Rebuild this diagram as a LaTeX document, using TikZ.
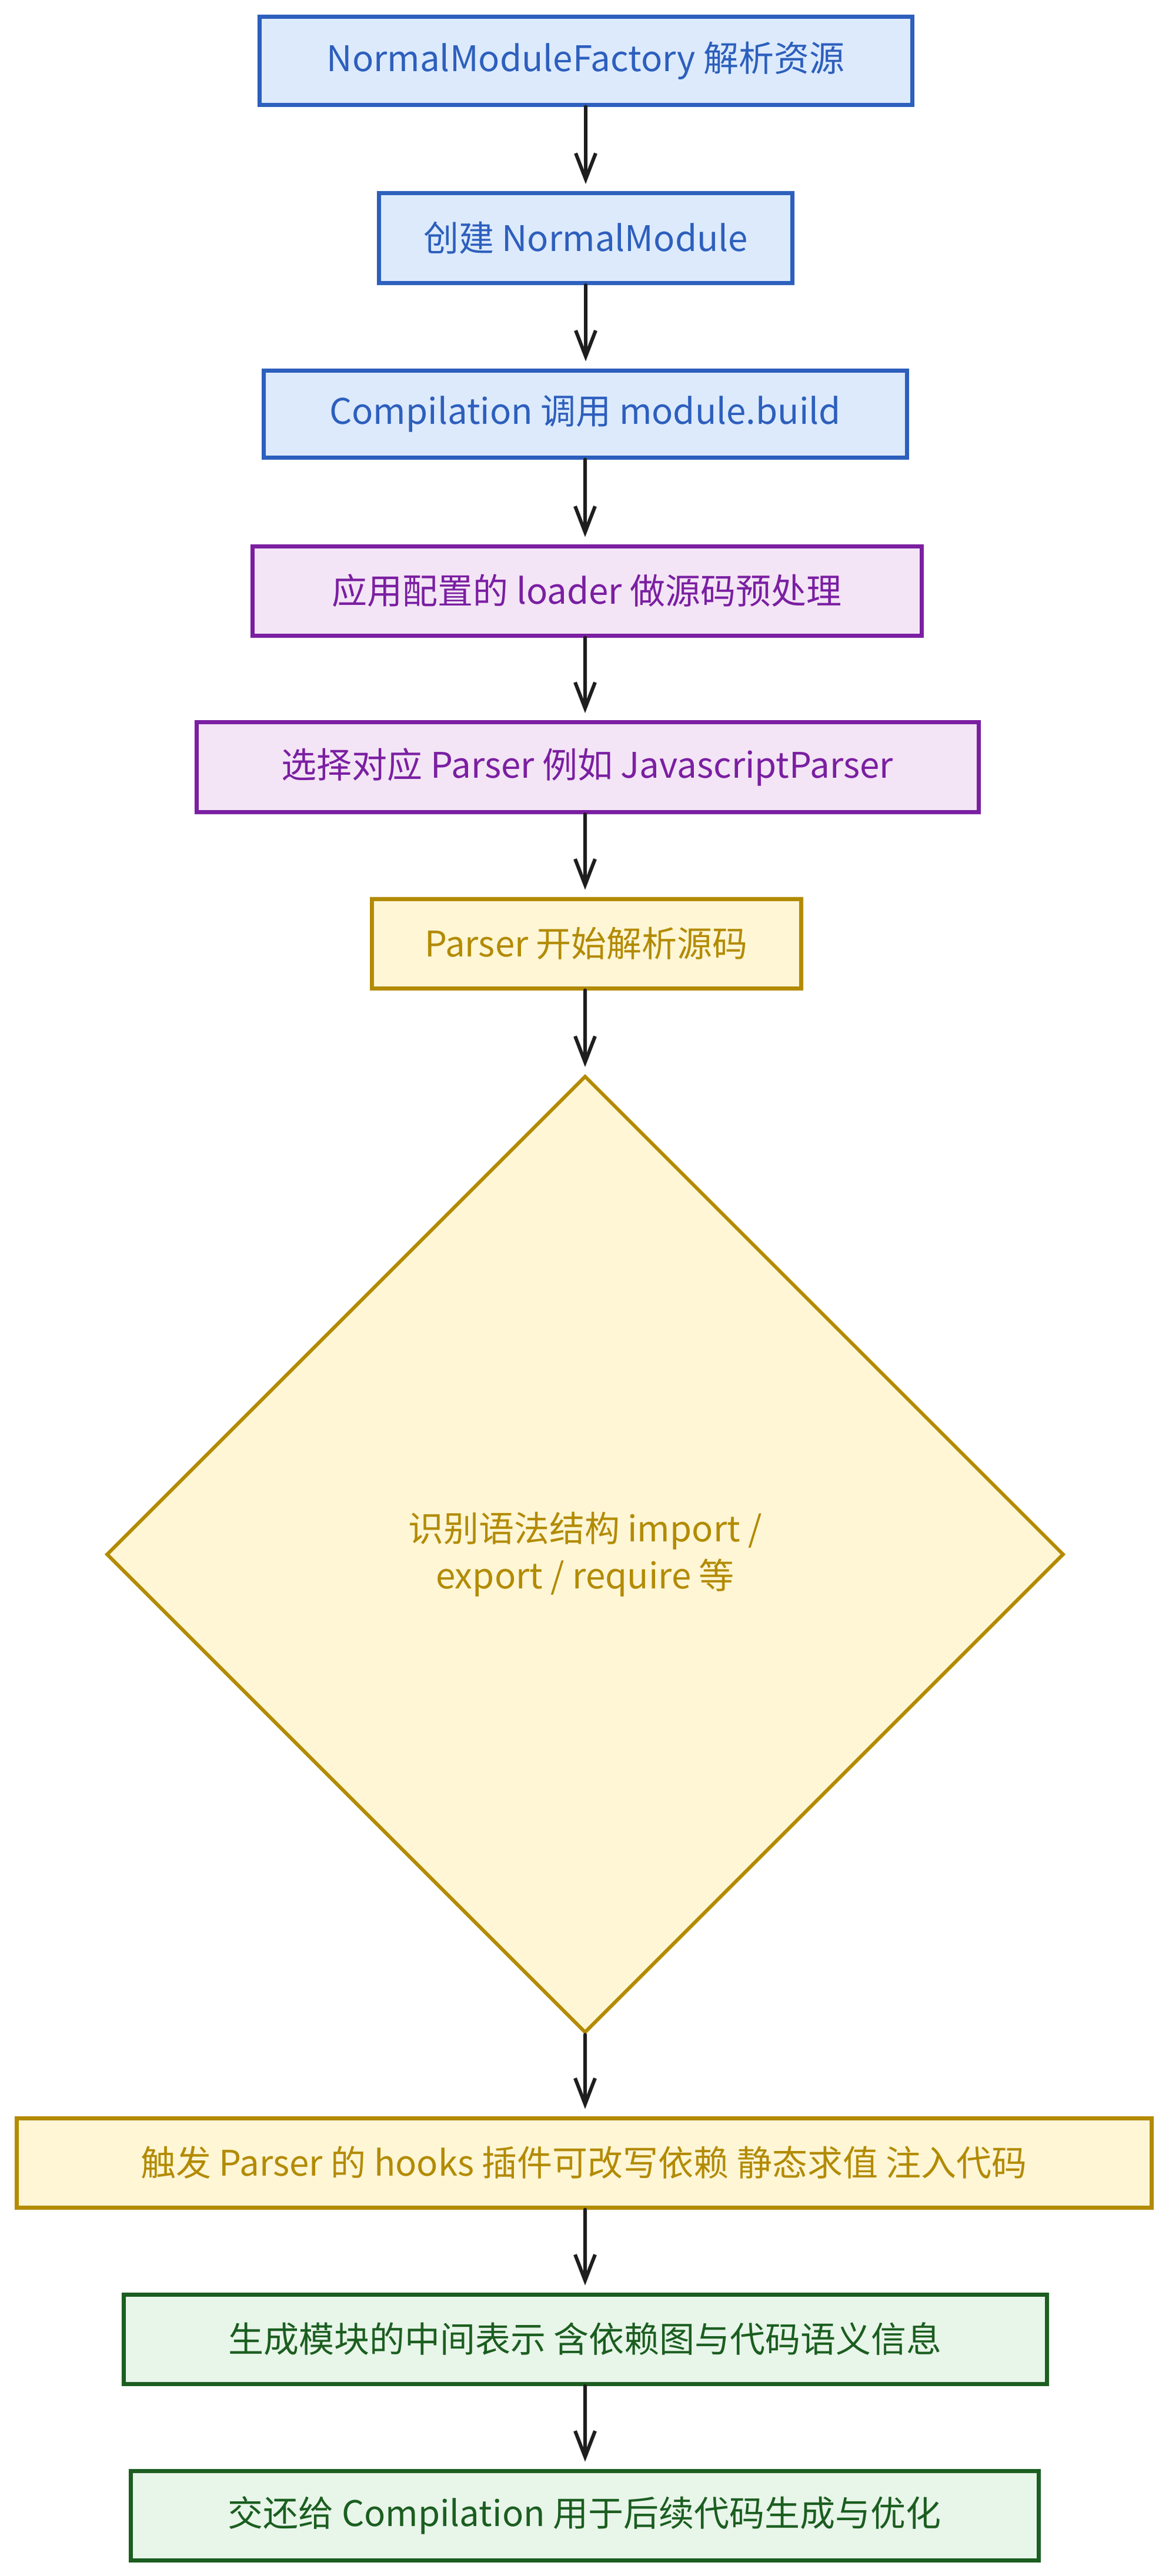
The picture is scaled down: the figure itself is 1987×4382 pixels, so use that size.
\documentclass[tikz,border=0pt]{standalone}
\usepackage{fontspec}
\setmainfont{Noto Sans CJK SC}
\usetikzlibrary{shapes.geometric,arrows.meta}
\definecolor{bluestroke}{HTML}{2D5FBD}
\definecolor{bluefill}{HTML}{DCEAFC}
\definecolor{purplestroke}{HTML}{7B1FA2}
\definecolor{purplefill}{HTML}{F3E5F5}
\definecolor{yellowstroke}{HTML}{B38B00}
\definecolor{yellowfill}{HTML}{FFF6D6}
\definecolor{greenstroke}{HTML}{1B5E20}
\definecolor{greenfill}{HTML}{E8F5E9}
\definecolor{arrowcol}{HTML}{1E1E1E}
\tikzset{
  box/.style={rectangle, line width=7pt, inner sep=0pt, align=center,
    font=\fontsize{60}{80}\selectfont},
  bluebox/.style={box, draw=bluestroke, fill=bluefill, text=bluestroke},
  purplebox/.style={box, draw=purplestroke, fill=purplefill, text=purplestroke},
  yellowbox/.style={box, draw=yellowstroke, fill=yellowfill, text=yellowstroke},
  greenbox/.style={box, draw=greenstroke, fill=greenfill, text=greenstroke},
  flow/.style={draw=arrowcol, line width=6pt, line cap=round,
    -{Straight Barb[length=44pt,width=34pt,line width=6pt]}, shorten >=12pt},
}
\begin{document}
\begin{tikzpicture}[x=1pt,y=-1pt]
\path[use as bounding box, fill=white] (0,0) rectangle (1987,4382);
\node[bluebox, minimum width=1110pt, minimum height=150pt] (b1) at (996,103) {NormalModuleFactory 解析资源};
\node[bluebox, minimum width=703pt, minimum height=153pt] (b2) at (996,405) {创建 NormalModule};
\node[bluebox, minimum width=1094pt, minimum height=148pt] (b3) at (995,704) {Compilation 调用 module.build};
\node[purplebox, minimum width=1138pt, minimum height=152pt] (b4) at (998,1005) {应用配置的 loader 做源码预处理};
\node[purplebox, minimum width=1330pt, minimum height=153pt] (b5) at (999,1305) {选择对应 Parser 例如 JavascriptParser};
\node[yellowbox, minimum width=730pt, minimum height=152pt] (b6) at (997,1605) {Parser 开始解析源码};
\node[diamond, aspect=1, line width=6pt, inner sep=0pt, draw=yellowstroke, fill=yellowfill,
  text=yellowstroke, align=center, font=\fontsize{60}{80}\selectfont,
  minimum width=1628pt, minimum height=1628pt] (d) at (995,2644)
  {识别语法结构 import /\\export / require 等};
\node[yellowbox, minimum width=1930pt, minimum height=152pt] (b7) at (993,3679) {触发 Parser 的 hooks 插件可改写依赖 静态求值 注入代码};
\node[greenbox, minimum width=1570pt, minimum height=152pt] (b8) at (995,3979) {生成模块的中间表示 含依赖图与代码语义信息};
\node[greenbox, minimum width=1544pt, minimum height=152pt] (b9) at (994,4279) {交还给 Compilation 用于后续代码生成与优化};
\draw[flow] (b1.south) -- (b1.south |- b2.north);
\draw[flow] (b2.south) -- (b2.south |- b3.north);
\draw[flow] (b3.south) -- (b3.south |- b4.north);
\draw[flow] (b4.south -| b3.south) -- (b3.south |- b5.north);
\draw[flow] (b5.south -| b3.south) -- (b3.south |- b6.north);
\draw[flow] (b6.south -| d.north) -- (d.north);
\draw[flow] (d.south) -- (d.south |- b7.north);
\draw[flow] (b7.south -| d.south) -- (d.south |- b8.north);
\draw[flow] (b8.south -| d.south) -- (d.south |- b9.north);
\end{tikzpicture}
\end{document}
